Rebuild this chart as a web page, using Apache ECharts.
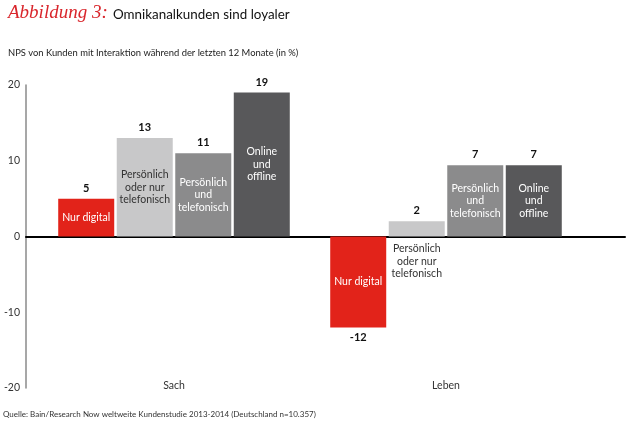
<!DOCTYPE html>
<html><head><meta charset="utf-8">
<script src="https://cdn.jsdelivr.net/npm/echarts@6/dist/echarts.min.js"></script>
<style>html,body{margin:0;padding:0;background:#fff}#c{width:630px;height:424px}</style>
</head><body><div id="c"></div>
<script>
const categories = ['Sach', 'Leben'];
const seriesNames = ['Nur digital', 'Persönlich oder nur telefonisch', 'Persönlich und telefonisch', 'Online und offline'];
const innerLabels = ['Nur digital', 'Persönlich\noder nur\ntelefonisch', 'Persönlich\nund\ntelefonisch', 'Online\nund\noffline'];
// bar heights as drawn in the picture
const nurDigital = [5, -12];
const persoenlichOderNurTelefonisch = [13, 2];
const persoenlichUndTelefonisch = [11, 9.4];
const onlineUndOffline = [19, 9.4];
// printed value labels
const labelNurDigital = ['5', '-12'];
const labelPersoenlichOderNur = ['13', '2'];
const labelPersoenlichUnd = ['11', '7'];
const labelOnlineOffline = ['19', '7'];
const yMin = -20, yMax = 20, yInterval = 10;

const values = [nurDigital, persoenlichOderNurTelefonisch, persoenlichUndTelefonisch, onlineUndOffline];
const printed = [labelNurDigital, labelPersoenlichOderNur, labelPersoenlichUnd, labelOnlineOffline];
const colors = ['#e2231a', '#c8c8c9', '#8b8b8c', '#58585a'];
const innerColors = ['#ffffff', '#333333', '#ffffff', '#ffffff'];
const FONT = 'Lato';

const series = [];
values.forEach((vals, i) => {
  series.push({
    name: seriesNames[i], type: 'bar', xAxisIndex: 1, yAxisIndex: 1,
    barWidth: 56, barGap: '4.5%', silent: true,
    itemStyle: { color: colors[i] },
    data: vals.map((v, j) => ({
      value: v,
      label: {
        show: true, position: v < 0 ? 'bottom' : 'top', distance: 5,
        formatter: printed[i][j], fontFamily: FONT, fontWeight: 'bold', fontSize: 11, color: '#111'
      }
    }))
  });
});
values.forEach((vals, i) => {
  series.push({
    name: seriesNames[i] + ' ', type: 'bar', xAxisIndex: 2, yAxisIndex: 2,
    barWidth: 56, barGap: '4.5%', silent: true,
    itemStyle: { color: 'rgba(0,0,0,0)' },
    data: vals.map((v, j) => {
      const small = Math.abs(v) < 4;
      return {
        value: v,
        label: {
          show: true, position: small ? 'bottom' : 'inside', distance: 6,
          formatter: innerLabels[i], fontFamily: FONT, fontSize: 10.5, lineHeight: 12.5,
          color: small ? '#333333' : innerColors[i], align: 'center'
        }
      };
    })
  });
});

const grids = [
  { left: 26, right: 5, top: 85, bottom: 36 },
  { left: 38, right: 48, top: 85, bottom: 36 },
  { left: 38, right: 48, top: 85, bottom: 36 }
];

const chart = echarts.init(document.getElementById('c'), null, { renderer: 'canvas' });
chart.setOption({
  animation: false,
  backgroundColor: '#ffffff',
  textStyle: { fontFamily: FONT },
  title: [
    { text: 'Abbildung 3:', left: 8, top: 3, padding: 0, textStyle: { fontFamily: 'Liberation Serif', fontStyle: 'italic', fontWeight: 'normal', fontSize: 19, color: '#d9262c' } },
    { text: 'Omnikanalkunden sind loyaler', left: 113, top: 8, padding: 0, textStyle: { fontFamily: FONT, fontWeight: 'normal', fontSize: 13.4, color: '#111' } },
    { text: 'NPS von Kunden mit Interaktion während der letzten 12 Monate (in %)', left: 8, top: 48, padding: 0, textStyle: { fontFamily: FONT, fontWeight: 'normal', fontSize: 9.4, color: '#222' } },
    { text: 'Quelle: Bain/Research Now weltweite Kundenstudie 2013-2014 (Deutschland n=10.357)', left: 3, top: 410, padding: 0, textStyle: { fontFamily: FONT, fontWeight: 'normal', fontSize: 8, color: '#333' } }
  ],
  grid: grids,
  xAxis: [
    { type: 'value', gridIndex: 0, min: 0, max: 1, axisLine: { show: true, onZero: true, lineStyle: { color: '#000', width: 2 } }, axisTick: { show: false }, axisLabel: { show: false }, splitLine: { show: false } },
    { type: 'category', gridIndex: 1, data: categories, axisLine: { show: false, onZero: false }, axisTick: { show: false }, axisLabel: { fontFamily: FONT, fontSize: 10.5, color: '#333', verticalAlign: 'middle', margin: -2 } },
    { type: 'category', gridIndex: 2, data: categories, show: false }
  ],
  yAxis: [
    { type: 'value', gridIndex: 0, min: yMin, max: yMax, interval: yInterval, axisLine: { show: true, lineStyle: { color: '#8a8a8a', width: 1.5 } }, axisTick: { show: false }, splitLine: { show: false }, axisLabel: { fontFamily: FONT, fontSize: 10.5, color: '#333', margin: 6 } },
    { type: 'value', gridIndex: 1, min: yMin, max: yMax, interval: yInterval, show: false },
    { type: 'value', gridIndex: 2, min: yMin, max: yMax, interval: yInterval, show: false }
  ],
  series: series
});
</script></body></html>
